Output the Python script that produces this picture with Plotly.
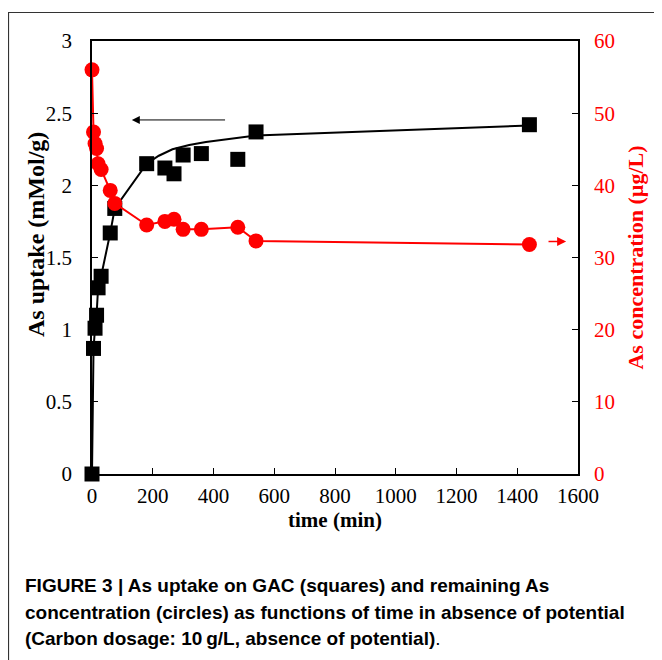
import plotly.graph_objects as go

# ---- data ----
time_min = [0, 5, 10, 15, 20, 30, 60, 75, 180, 240, 270, 300, 360, 480, 540, 1440]
uptake = [0, 0.87, 1.01, 1.10, 1.29, 1.37, 1.67, 1.84, 2.15, 2.12, 2.08, 2.21, 2.22, 2.18, 2.37, 2.42]
conc = [56.0, 47.4, 45.8, 45.1, 43.0, 42.2, 39.3, 37.5, 34.5, 35.0, 35.3, 33.9, 33.9, 34.2, 32.3, 31.8]

# trend line drawn through the uptake data
fit_t = [0, 5, 10, 15, 20, 30, 60, 75, 180, 220, 265, 320, 375, 450, 540, 1440]
fit_q = [0, 0.87, 1.01, 1.10, 1.29, 1.37, 1.67, 1.84, 2.15, 2.205, 2.25, 2.28, 2.30, 2.32, 2.345, 2.415]

x_ticks = [0, 200, 400, 600, 800, 1000, 1200, 1400, 1600]
caption_lines = [
    "<b>FIGURE 3 | As uptake on GAC (squares) and remaining As</b>",
    "<b>concentration (circles) as functions of time in absence of potential</b>",
    "<b>(Carbon dosage: 10\u2009g/L, absence of potential)</b>.",
]

# page body adds an 8px offset; figure sized so the plot lands where the reference has it
OFF = 8
W, H = 662 - OFF, 660 - OFF
L, T = 92 - OFF, 41 - OFF
R = W - (578 - OFF)
B = H - (474 - OFF)
pw, ph = W - L - R, H - T - B

serif = "Liberation Serif, Times New Roman, serif"
red = "#ff0000"

fig = go.Figure()
fig.add_trace(go.Scatter(x=fit_t, y=fit_q, mode="lines",
                         line=dict(color="black", width=2), yaxis="y",
                         hoverinfo="skip", cliponaxis=False, showlegend=False))
fig.add_trace(go.Scatter(x=time_min, y=uptake, mode="markers",
                         marker=dict(symbol="square", size=15, color="black"),
                         yaxis="y", cliponaxis=False, showlegend=False))
fig.add_trace(go.Scatter(x=time_min, y=conc, mode="lines+markers",
                         line=dict(color=red, width=2),
                         marker=dict(symbol="circle", size=15, color=red),
                         yaxis="y2", cliponaxis=False, showlegend=False))

axis_common = dict(showgrid=False, zeroline=False, showline=True, linecolor="black",
                   linewidth=1.5, ticks="inside", ticklen=6, tickcolor="black", tickwidth=1.2)

fig.update_layout(
    width=W, height=H,
    margin=dict(l=L, r=R, t=T, b=B, pad=0, autoexpand=False),
    paper_bgcolor="white", plot_bgcolor="white",
    xaxis=dict(range=[0, 1600], tickvals=x_ticks, mirror=True,
               tickfont=dict(family=serif, size=21, color="black"),
               title=dict(text="time (min)", font=dict(family=serif, size=21, color="black", weight="bold"),
                          standoff=2),
               ticklabelstandoff=2, **axis_common),
    yaxis=dict(range=[0, 3], dtick=0.5,
               tickfont=dict(family=serif, size=21, color="black"),
               ticklabelstandoff=14, **axis_common),
    yaxis2=dict(range=[0, 60], dtick=10, overlaying="y", side="right",
                tickfont=dict(family=serif, size=21, color=red),
                title=dict(text="As concentration (\u00b5g/L)", font=dict(family=serif, size=22, color=red, weight="bold"),
                           standoff=14),
                ticklabelstandoff=10, **axis_common),
)

# left axis title (placed slightly above centre, as in the reference)
fig.add_annotation(x=(36 - 92) / pw, y=(474 - 235) / ph, xref="paper", yref="paper",
                   xanchor="center", yanchor="middle", showarrow=False, textangle=-90,
                   text="<b>As uptake (mMol/g)</b>", font=dict(family=serif, size=24, color="black"))

# arrows pointing to the respective axes
fig.add_annotation(x=131, y=2.453, ax=443, ay=2.453, xref="x", yref="y", axref="x", ayref="y",
                   text="", showarrow=True, arrowhead=2, arrowsize=1.6, arrowwidth=1, arrowcolor="black")
fig.add_annotation(x=1561, y=32.2, ax=1498, ay=32.2, xref="x", yref="y2", axref="x", ayref="y2",
                   text="", showarrow=True, arrowhead=2, arrowsize=1.2, arrowwidth=1.5, arrowcolor=red)

# caption (screen y positions of line centres)
cap_y_px = [585, 612, 638]
for txt, ypx in zip(caption_lines, cap_y_px):
    fig.add_annotation(x=(23 - 92) / pw, y=(474 - ypx) / ph, xref="paper", yref="paper",
                       xanchor="left", yanchor="middle", showarrow=False, align="left",
                       text=txt, font=dict(family="Liberation Sans Narrow, Arial Narrow, Liberation Sans, sans-serif",
                                           size=19, color="black"))

# frame around the figure panel (left and top edges)
fx = (8.5 - 92) / pw
fy = (474 - 12.5) / ph
fig.add_shape(type="path", xref="paper", yref="paper",
              path=f"M {fx} {-B / ph - 0.1} L {fx} {fy} L {1 + R / pw + 0.1} {fy}",
              line=dict(color="#333333", width=1.2))

fig.write_html("out.html")
